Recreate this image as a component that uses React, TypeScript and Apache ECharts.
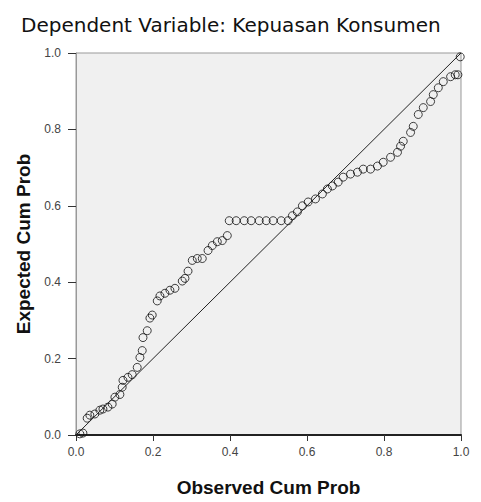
import React, { useEffect, useRef } from "react";
import * as echarts from "echarts";

const titleText = "Dependent Variable: Kepuasan Konsumen";
const xAxisName = "Observed Cum Prob";
const yAxisName = "Expected Cum Prob";
const tickLabels = ["0.0", "0.2", "0.4", "0.6", "0.8", "1.0"];

const observed = [
  0.01, 0.018, 0.029, 0.036, 0.049, 0.062, 0.07, 0.083, 0.094, 0.101, 0.114, 0.12, 0.122,
  0.135, 0.146, 0.159, 0.166, 0.172, 0.174, 0.185, 0.192, 0.198, 0.211, 0.218, 0.231, 0.244,
  0.257, 0.276, 0.283, 0.291, 0.302, 0.315, 0.328, 0.343, 0.354, 0.367, 0.38, 0.393,
  0.398, 0.416, 0.437, 0.455, 0.476, 0.494, 0.512, 0.533, 0.551,
  0.562, 0.575, 0.588, 0.603, 0.622, 0.64, 0.653, 0.666, 0.681, 0.694, 0.713, 0.731, 0.746,
  0.765, 0.783, 0.798, 0.817, 0.835, 0.843, 0.85, 0.869, 0.876, 0.889, 0.902, 0.921, 0.928,
  0.941, 0.954, 0.973, 0.985, 0.992, 0.998,
];
const expected = [
  0.003, 0.005, 0.044, 0.052, 0.055, 0.065, 0.068, 0.073, 0.081, 0.099, 0.106, 0.125, 0.143,
  0.151, 0.158, 0.177, 0.203, 0.221, 0.255, 0.273, 0.306, 0.314, 0.351, 0.364, 0.371, 0.379,
  0.384, 0.403, 0.41, 0.429, 0.457, 0.462, 0.462, 0.483, 0.496, 0.506, 0.509, 0.522,
  0.561, 0.561, 0.561, 0.561, 0.561, 0.561, 0.561, 0.561, 0.561,
  0.574, 0.584, 0.6, 0.61, 0.618, 0.631, 0.644, 0.652, 0.662, 0.675, 0.683, 0.688, 0.696,
  0.696, 0.704, 0.714, 0.727, 0.74, 0.756, 0.769, 0.792, 0.808, 0.839, 0.857, 0.873, 0.891,
  0.909, 0.925, 0.938, 0.943, 0.943, 0.99,
];
const diagonal = [
  [0, 0],
  [1, 1],
];

export default function App() {
  const ref = useRef<HTMLDivElement>(null);
  useEffect(() => {
    if (!ref.current) return;
    const chart = echarts.init(ref.current, undefined, { renderer: "svg" });
    const points = observed.map((x, i) => [x, expected[i]]);
    const fmt = (v: number) => tickLabels[Math.round(v / 0.2)] ?? "";
    chart.setOption({
      animation: false,
      backgroundColor: "#ffffff",
      title: {
        text: titleText,
        left: 16,
        top: 10,
        textStyle: {
          fontFamily: "DejaVu Sans",
          fontSize: 20,
          fontWeight: "normal",
          color: "#111",
        },
      },
      grid: {
        left: 76,
        top: 53,
        right: 20,
        bottom: 64,
        show: true,
        backgroundColor: "#f0f0f0",
        borderColor: "#999",
        borderWidth: 1,
      },
      xAxis: {
        type: "value",
        min: 0,
        max: 1,
        interval: 0.2,
        name: xAxisName,
        nameLocation: "middle",
        nameGap: 43,
        nameTextStyle: {
          fontFamily: "Liberation Sans",
          fontSize: 19,
          fontWeight: "bold",
          color: "#111",
        },
        axisLine: { show: true, lineStyle: { color: "#222", width: 2 } },
        axisTick: { show: true, length: 6, lineStyle: { color: "#333" } },
        axisLabel: {
          formatter: fmt,
          fontFamily: "Liberation Sans",
          fontSize: 12,
          color: "#444",
          margin: 11,
        },
        splitLine: { show: false },
      },
      yAxis: {
        type: "value",
        min: 0,
        max: 1,
        interval: 0.2,
        name: yAxisName,
        nameLocation: "middle",
        nameGap: 40,
        nameTextStyle: {
          fontFamily: "Liberation Sans",
          fontSize: 19,
          fontWeight: "bold",
          color: "#111",
        },
        axisLine: { show: true, lineStyle: { color: "#999", width: 1 } },
        axisTick: { show: true, length: 8, lineStyle: { color: "#333" } },
        axisLabel: {
          formatter: fmt,
          fontFamily: "Liberation Sans",
          fontSize: 12,
          color: "#444",
          margin: 15,
        },
        splitLine: { show: false },
      },
      series: [
        {
          type: "line",
          data: diagonal,
          symbol: "none",
          lineStyle: { color: "#222", width: 1 },
          silent: true,
        },
        {
          type: "scatter",
          data: points,
          symbol: "circle",
          symbolSize: 8,
          itemStyle: {
            color: "rgba(0,0,0,0)",
            borderColor: "#111",
            borderWidth: 1,
          },
        },
      ],
    });
    return () => chart.dispose();
  }, []);
  return (
    <div
      ref={ref}
      style={{ position: "fixed", left: 0, top: 0, width: 481, height: 502 }}
    />
  );
}
